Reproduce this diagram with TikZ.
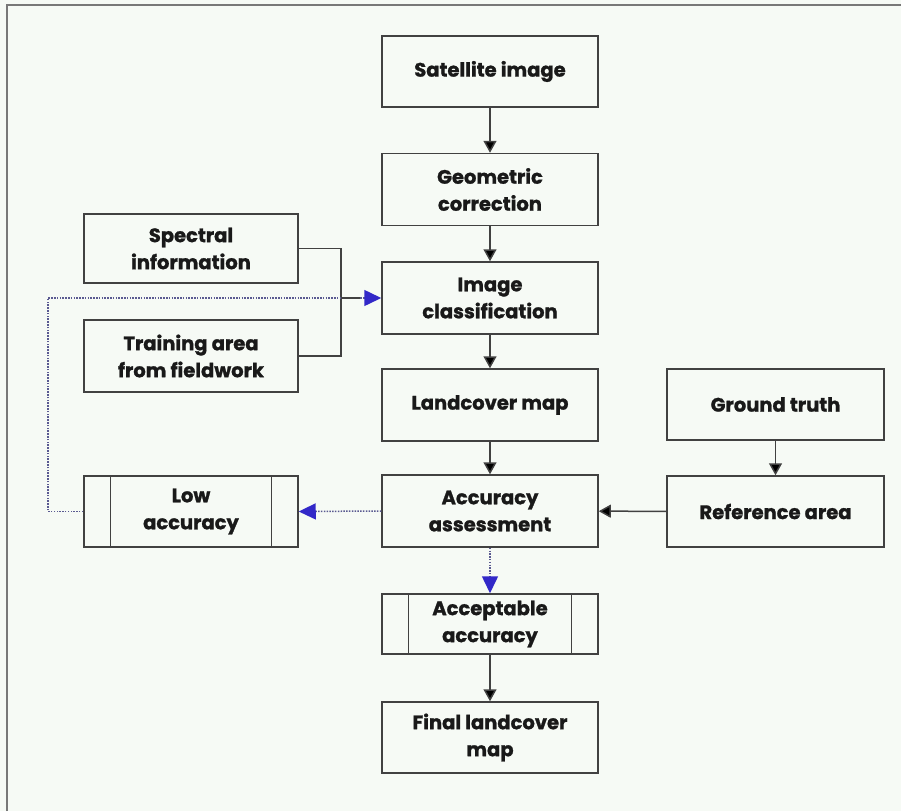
\documentclass[tikz,border=0pt]{standalone}
\usepackage{fontspec}
\setmainfont{Poppins}[BoldFeatures={FakeBold=1.2}]
\usetikzlibrary{arrows.meta,calc}
\definecolor{bgc}{RGB}{246,250,245}
\definecolor{framec}{RGB}{120,120,120}
\definecolor{linec}{RGB}{65,65,65}
\definecolor{txtc}{RGB}{25,25,25}
\definecolor{dotc}{RGB}{90,90,145}
\definecolor{bluec}{RGB}{50,40,200}
\tikzset{
  box/.style={draw=linec, line width=1.5pt, fill=bgc, rectangle, align=center,
    text=txtc, font=\fontsize{19.5}{27}\selectfont\bfseries, inner sep=0pt},
  mainbox/.style={box, minimum width=216pt},
  sidebox/.style={box, minimum width=214pt},
  barbox/.style={path picture={
      \draw[linec, line width=1.5pt] ([xshift=26.5pt]path picture bounding box.north west) -- ([xshift=26.5pt]path picture bounding box.south west);
      \draw[linec, line width=1.5pt] ([xshift=-26.5pt]path picture bounding box.north east) -- ([xshift=-26.5pt]path picture bounding box.south east);}},
  flow/.style={draw=linec, line width=1.5pt, -{Triangle[width=13pt,length=12pt,fill=black]}},
  plain/.style={draw=linec, line width=1.5pt},
  dotflow/.style={draw=dotc, line width=1.5pt, dash pattern=on 1.5pt off 1.3pt,
    -{Triangle[width=16pt,length=17pt,fill=bluec,color=bluec]}},
  dotline/.style={draw=dotc, line width=1.5pt, dash pattern=on 1.5pt off 1.3pt},
}
\begin{document}
\begin{tikzpicture}[x=1pt,y=-1pt]
\fill[bgc] (0,0) rectangle (901,811);
\useasboundingbox (0,0) rectangle (901,811);
\draw[framec, line width=2.2pt] (7,811) -- (7,5) -- (901,5);

% main column
\node[mainbox, minimum height=71pt] (sat) at (490,71.5) {Satellite image};
\node[mainbox, minimum height=72pt] (geo) at (490,189.5) {Geometric\\correction};
\node[mainbox, minimum height=72pt] (cls) at (490,298) {Image\\classification};
\node[mainbox, minimum height=72pt] (land) at (490,405) {Landcover map};
\node[mainbox, minimum height=72pt] (acc) at (490,511) {Accuracy\\assessment};
\node[mainbox, barbox, minimum height=60pt] (ok) at (490,624) {Acceptable\\accuracy};
\node[mainbox, minimum height=71pt] (fin) at (490,737.5) {Final landcover\\map};

% left column
\node[sidebox, minimum height=69pt] (spec) at (191,248.5) {Spectral\\information};
\node[sidebox, minimum height=72pt] (train) at (191,356) {Training area\\from fieldwork};
\node[sidebox, barbox, minimum height=71pt] (low) at (191,511.5) {Low\\accuracy};

% right column
\node[box, minimum width=217pt, minimum height=71pt] (gt) at (775.5,404.5) {Ground truth};
\node[box, minimum width=217pt, minimum height=71pt] (ref) at (775.5,511.5) {Reference area};

% coordinates
\coordinate (bx) at (341,298);
\coordinate (lx) at (48,298);
\coordinate (lb) at (48,511.5);

% connectors
\draw[flow] (sat) -- (geo);
\draw[flow] (geo) -- (cls);
\draw[flow] (cls) -- (land);
\draw[flow] (land) -- (acc);
\draw[flow] (ok) -- (fin);
\draw[flow] (gt) -- (ref);
\draw[flow] (ref) -- (acc);
\draw[plain] (spec.east) -| (bx) |- (train.east);
\draw[dotline] (low.west) -- (lb) -- (lx) -- (bx);
\draw[plain] (bx) -- ($(cls.west)+(-20,0)$);
\draw[dotflow] ($(cls.west)+(-21,0)$) -- (cls.west);
\draw[dotflow] (acc.west) -- (low.east);
\draw[dotflow] (acc.south) -- (ok.north);
\end{tikzpicture}
\end{document}
